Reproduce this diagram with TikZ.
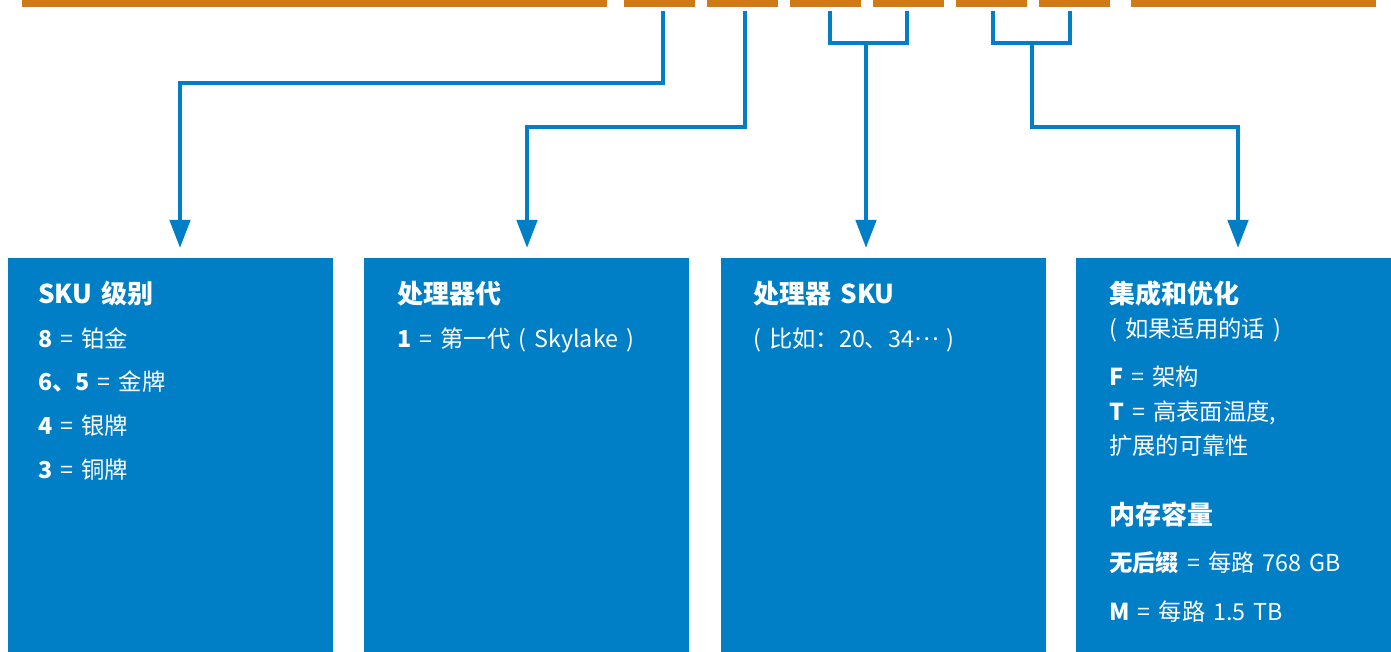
\documentclass[tikz,border=0pt]{standalone}
\usepackage{fontspec}
\setmainfont{Noto Sans CJK SC}[WordSpace=1.55]
\usetikzlibrary{arrows.meta}
\definecolor{barorange}{RGB}{207,122,22}
\definecolor{boxblue}{RGB}{0,126,198}
\newcommand{\midell}{\raisebox{0.28em}{…}}
\begin{document}
\begin{tikzpicture}[x=1pt,y=-1pt,
  bar/.style={fill=barorange,draw=none,inner sep=0pt,minimum height=6.5pt,anchor=north west},
  panel/.style={fill=boxblue,draw=none,inner sep=0pt,minimum height=394pt,minimum width=325pt,anchor=north west},
  conn/.style={draw=boxblue,line width=4.5pt},
  arr/.style={conn,-{Triangle[width=20pt,length=28pt]}},
  ttl/.style={text=white,anchor=base west,inner sep=0pt,font=\fontsize{26}{30}\selectfont\bfseries},
  txt/.style={text=white,anchor=base west,inner sep=0pt,font=\fontsize{23.3}{28}\selectfont},
]
\useasboundingbox (0,0) rectangle (1391,652);
% top bars
\node[bar,minimum width=585pt] (b1) at (22,0) {};
\node[bar,minimum width=71pt] (b2) at (624,0) {};
\node[bar,minimum width=71pt] (b3) at (707,0) {};
\node[bar,minimum width=71pt] (b4) at (790,0) {};
\node[bar,minimum width=71pt] (b5) at (873,0) {};
\node[bar,minimum width=71pt] (b6) at (956,0) {};
\node[bar,minimum width=71pt] (b7) at (1039,0) {};
\node[bar,minimum width=245pt] (b8) at (1131,0) {};
% panels
\node[panel] (p1) at (8,258) {};
\node[panel] (p2) at (364,258) {};
\node[panel] (p3) at (721,258) {};
\node[panel,minimum width=316pt] (p4) at (1076,258) {};
% connector end points
\coordinate (s2) at (663,11);
\coordinate (s3) at (745,11);
\coordinate (s4) at (830,11);
\coordinate (s5) at (907,11);
\coordinate (s6) at (993,11);
\coordinate (s7) at (1070,11);
\coordinate (j1) at (866,43);
\coordinate (j2) at (1032,43);
\coordinate (t1) at (180,248);
\coordinate (t2) at (527,248);
\coordinate (t3) at (866,248);
\coordinate (t4) at (1238,248);
% connectors
\draw[arr] (s2) |- (180,83) -- (t1);
\draw[arr] (s3) |- (527,127) -- (t2);
\draw[conn] (s4) |- (s5 |- j1) -- (s5);
\draw[arr] (j1) -- (t3);
\draw[conn] (s6) |- (s7 |- j2) -- (s7);
\draw[arr] (j2) |- (1238,127) -- (t4);
% panel 1
\node[ttl] (h1) at (38,303) {SKU 级别};
\node[txt] (l11) at (38,347) {{\bfseries 8} = 铂金};
\node[txt] (l12) at (38,390) {{\bfseries 6、5} = 金牌};
\node[txt] (l13) at (38,434) {{\bfseries 4} = 银牌};
\node[txt] (l14) at (38,478) {{\bfseries 3} = 铜牌};
% panel 2
\node[ttl] (h2) at (397,303) {处理器代};
\node[txt] (l21) at (397,347) {{\bfseries 1} = 第一代 ( Skylake )};
% panel 3
\node[ttl] (h3) at (753,303) {处理器 SKU};
\node[txt] (l31) at (753,347) {( 比如：20、34\midell{} )};
% panel 4
\node[ttl] (h4) at (1109,303) {集成和优化};
\node[txt] (l41) at (1109,337) {( 如果适用的话 )};
\node[txt] (l42) at (1109,385) {{\bfseries F} = 架构};
\node[txt] (l43) at (1109,420) {{\bfseries T} = 高表面温度,};
\node[txt] (l44) at (1109,454) {扩展的可靠性};
\node[ttl] (h5) at (1109,524) {内存容量};
\node[txt] (l45) at (1109,571) {{\bfseries 无后缀} = 每路 768 GB};
\node[txt] (l46) at (1109,620) {{\bfseries M} = 每路 1.5 TB};
\end{tikzpicture}
\end{document}
